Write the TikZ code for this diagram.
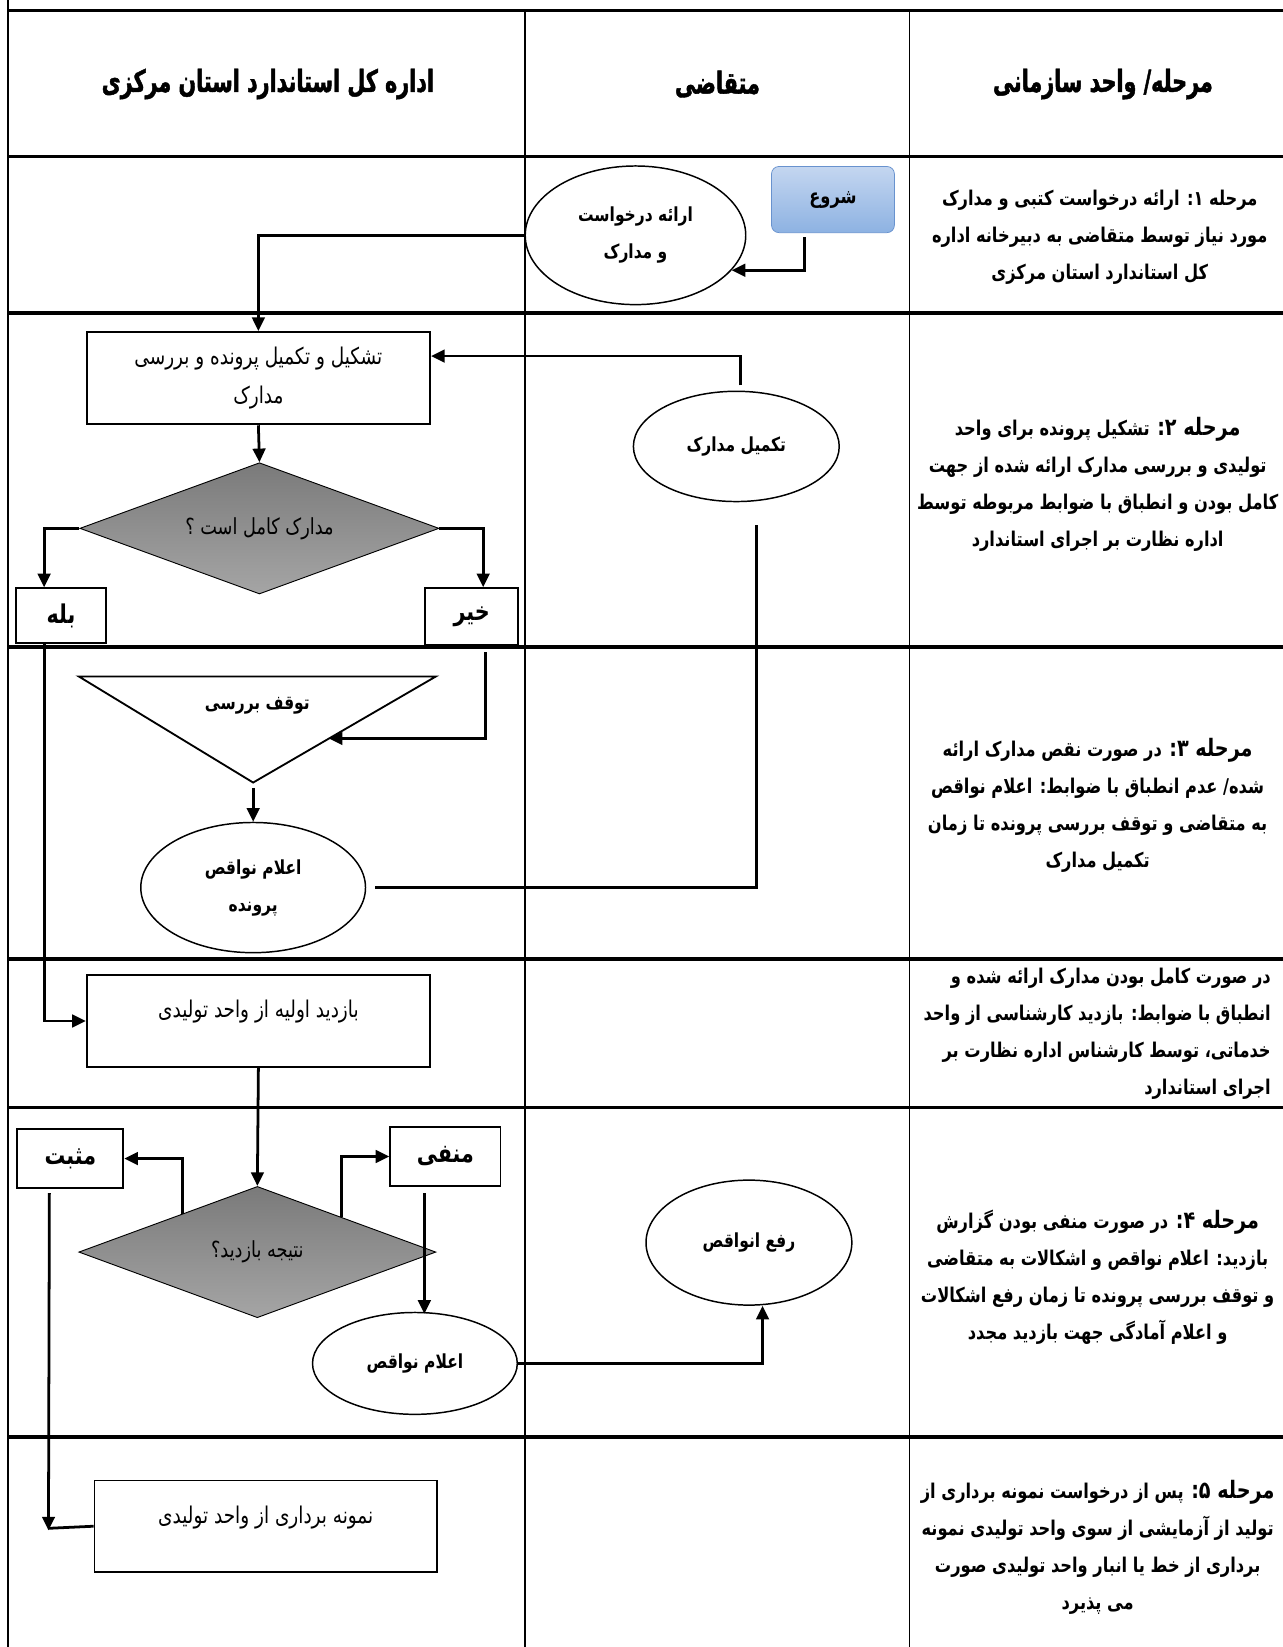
\documentclass[tikz,border=0pt]{standalone}
\usepackage{fontspec}
\newfontfamily\fafont[Script=Arabic, FakeStretch=0.8]{DejaVu Sans}
\newfontfamily\fahead[Script=Arabic, FakeStretch=0.68, FakeBold=1.5]{DejaVu Sans Bold}
\TeXXeTstate=1
\usetikzlibrary{shapes.geometric,arrows.meta,calc}
\newcommand\fa[1]{\beginR #1\endR}
\newcommand\stg[1]{{\fontsize{13}{20}\selectfont #1}}
\definecolor{starttop}{RGB}{196,214,240}
\definecolor{startbot}{RGB}{141,178,226}
\definecolor{startline}{RGB}{104,146,206}
\definecolor{diatop}{RGB}{122,122,122}
\definecolor{diabot}{RGB}{165,165,165}
\begin{document}
\begin{tikzpicture}[x=0.02cm, y=-0.02cm,
    every node/.style={font=\fafont\fontsize{12.5}{21}\selectfont},
    hline/.style={line width=1.7pt},
    vline/.style={line width=0.8pt},
    head/.style={font=\fahead\fontsize{16.5}{20}\selectfont},
    stage/.style={font=\fafont\bfseries\fontsize{11}{20}\selectfont, align=center},
    proc/.style={draw, line width=1pt, align=center, minimum width=6.54cm, minimum height=1.76cm},
    oval/.style={draw, ellipse, line width=0.8pt, align=center, inner sep=0pt, font=\fafont\bfseries\fontsize{10.5}{20}\selectfont},
    decide/.style={draw, diamond, aspect=2.74, line width=0.5pt, top color=diatop, bottom color=diabot, minimum width=6.84cm, minimum height=2.5cm, inner sep=0pt, font=\fafont\fontsize{12}{16}\selectfont},
    answer/.style={draw, line width=1pt, font=\fafont\bfseries\fontsize{14}{16}\selectfont},
    startbox/.style={draw=startline, rounded corners=4pt, top color=starttop, bottom color=startbot, minimum width=2.34cm, minimum height=1.26cm, font=\fafont\bfseries\fontsize{11}{16}\selectfont},
    conn/.style={line width=1.5pt},
    arr/.style={conn, -{Triangle[length=0.26cm, width=0.24cm]}}
  ]
  \useasboundingbox (0,0) rectangle (1221,1568);

  \foreach \y in {10,149,298,616,913,1054,1368}
    \draw[hline] (8,\y) -- (1221,\y);
  \draw[vline, line width=1.1pt] (8,0) -- (8,1568);
  \draw[vline] (500,10) -- (500,1568);
  \draw[vline] (866,10) -- (866,1568);

  \node[head] (lane1) at (255,80) {\fa{اداره کل استاندارد استان مرکزی}};
  \node[head] (lane2) at (683,80) {\fa{متقاضی}};
  \node[head] (lane3) at (1050,80) {\fa{مرحله/ واحد سازمانی}};

  \node[stage] (st1) at (1047,226) {\fa{مرحله ۱: ارائه درخواست کتبی و مدارک}\\\fa{مورد نیاز توسط متقاضی به دبیرخانه اداره}\\\fa{کل استاندارد استان مرکزی}};
  \node[stage] (st2) at (1045,461) {\fa{\stg{مرحله ۲:} تشکیل پرونده برای واحد}\\\fa{تولیدی  و بررسی مدارک ارائه شده از جهت}\\\fa{کامل بودن و انطباق با ضوابط مربوطه توسط}\\\fa{اداره نظارت بر اجرای استاندارد}};
  \node[stage] (st3) at (1045,767) {\fa{\stg{مرحله ۳:} در صورت نقص مدارک ارائه}\\\fa{شده/ عدم انطباق با ضوابط: اعلام نواقص}\\\fa{به متقاضی و توقف بررسی پرونده تا زمان}\\\fa{تکمیل مدارک}};
  \node[stage, align=right, anchor=east] (st4) at (1216,984) {\fa{در صورت کامل بودن مدارک ارائه شده و}\\\fa{انطباق با ضوابط: بازدید کارشناسی از واحد}\\\fa{خدماتی، توسط کارشناس اداره نظارت بر}\\\fa{اجرای استاندارد}};
  \node[stage] (st5) at (1045,1216) {\fa{\stg{مرحله ۴:} در صورت منفی بودن گزارش}\\\fa{بازدید: اعلام نواقص و اشکالات به متقاضی}\\\fa{و توقف بررسی پرونده تا زمان رفع اشکالات}\\\fa{و اعلام آمادگی جهت بازدید مجدد}};
  \node[stage] (st6) at (1045,1473) {\fa{\stg{مرحله ۵:} پس از درخواست نمونه برداری از}\\\fa{تولید از آزمایشی از سوی واحد تولیدی نمونه}\\\fa{برداری از خط یا انبار واحد تولیدی صورت}\\\fa{می پذیرد}};

  \node[startbox] (start) at (793,190) {\fa{شروع}};
  \node[oval, minimum width=4.2cm, minimum height=2.64cm] (request) at (605,224) {\fa{ارائه درخواست}\\\fa{و مدارک}};
  \node[proc] (form) at (246,360) {\fa{تشکیل و تکمیل پرونده و بررسی}\\\fa{مدارک}};
  \node[decide] (check) at (247,503) {\fa{مدارک کامل است ؟}};
  \node[answer, minimum width=1.72cm, minimum height=1.04cm] (yes) at (58,586) {\fa{بله}};
  \node[answer, minimum width=1.76cm, minimum height=1.08cm] (no) at (449,587) {\fa{خیر}};
  \node[oval, minimum width=3.92cm, minimum height=2.1cm] (complete) at (701,425) {\fa{تکمیل مدارک}};

  \draw[line width=1pt] (75,644) -- (415,644) -- (241,745) -- cycle;
  \node[font=\fafont\bfseries\fontsize{10.5}{16}\selectfont] (stop) at (245,672) {\fa{توقف بررسی}};
  \coordinate (stopR) at (313,703);
  \coordinate (stopB) at (241,745);
  \node[oval, minimum width=4.28cm, minimum height=2.48cm] (notice1) at (241,845) {\fa{اعلام نواقص}\\\fa{پرونده}};

  \node[proc, text depth=0.45cm] (visit) at (246,972) {\fa{بازدید اولیه از واحد تولیدی}};
  \node[decide, minimum width=6.8cm] (result) at (245,1192) {\fa{نتیجه بازدید؟}};
  \node[answer, minimum width=2.02cm, minimum height=1.12cm] (positive) at (67,1103) {\fa{مثبت}};
  \node[answer, minimum width=2.1cm, minimum height=1.12cm] (negative) at (424,1101) {\fa{منفی}};
  \node[oval, minimum width=3.9cm, minimum height=1.94cm] (notice2) at (395,1298) {\fa{اعلام نواقص}};
  \node[oval, minimum width=3.92cm, minimum height=2.38cm] (fix) at (713,1183) {\fa{رفع انواقص}};
  \node[proc, text depth=0.45cm, minimum width=6.52cm, minimum height=1.74cm] (sample) at (253,1453) {\fa{نمونه برداری از واحد تولیدی}};

  \draw[arr] ($(start.south)+(-27,4)$) |- (request.-20);
  \draw[arr] (request.west) -| (form.north);
  \draw[arr] (form.south) -- (check.north);
  \draw[arr] (check.west) -| ($(yes.north)+(-16,0)$);
  \draw[arr] (check.east) -| ($(no.north)+(11,0)$);
  \draw[arr] ($(complete.north)+(4,-5)$) |- ($(form.east)+(0,-21)$);
  \draw[conn] ($(complete.south)+(19,22)$) |- ($(notice1.east)+(8,0)$);
  \draw[arr] ($(no.south)+(13,6)$) |- (stopR);
  \draw[arr] ($(stopB)+(0,5)$) -- (notice1.north);
  \draw[arr] ($(yes.south)+(-16,0)$) |- (visit.west);
  \draw[arr] (visit.south) -- (result.north);
  \draw[arr] ($(result.west)!0.58!(result.north)$) |- (positive.east);
  \draw[arr] ($(result.north)!0.47!(result.east)$) |- (negative.west);
  \draw[arr] ($(negative.south)+(-20,6)$) -- ($(notice2.north)+(9,2)$);
  \draw[arr] (notice2.east) -| ($(fix.south)+(13,0)$);
  \draw[arr] ($(positive.south)+(-20,4)$) -- ($(sample.west)+(-43,4)$);
  \draw[conn] ($(sample.west)+(-43,2)$) -- (sample.west);
\end{tikzpicture}
\end{document}
